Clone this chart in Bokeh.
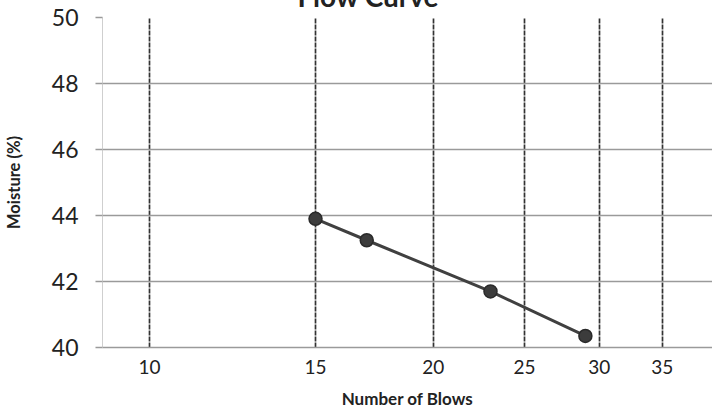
from bokeh.plotting import figure
from bokeh.models import Range1d, FixedTicker, Title, CustomJSTickFormatter
from bokeh.embed import file_html
from bokeh.resources import INLINE

blows = [15, 17, 23, 29]
moisture = [43.9, 43.25, 41.7, 40.35]
x_ticks = [10, 15, 20, 25, 30, 35]
y_ticks = [40, 42, 44, 46, 48, 50]
title_text = "Flow Curve"
x_title = "Number of Blows"
y_title = "Moisture (%)"

FONT = "Lato"
TOP = 50  # top border; the figure is shifted up so the title is mostly off the page

p = figure(
    x_axis_type="log",
    frame_width=610, frame_height=330,
    min_border_left=102, min_border_right=0, min_border_top=TOP, min_border_bottom=61,
    x_range=Range1d(8.915, 39.56), y_range=Range1d(40, 50),
    output_backend="svg", toolbar_location=None,
    background_fill_color="white", border_fill_color="white",
)
p.outline_line_color = None
p.styles = {"margin-top": f"-{TOP - 17}px"}

t = Title(text=title_text, align="left", offset=195, standoff=10,
          text_font=FONT, text_font_style="bold", text_font_size="28px", text_color="#222222")
p.add_layout(t, "above")

# grids
p.xgrid.ticker = FixedTicker(ticks=x_ticks)
p.xgrid.grid_line_color = "#333333"
p.xgrid.grid_line_width = 1.7
p.xgrid.grid_line_dash = "5 1"
p.ygrid.ticker = FixedTicker(ticks=y_ticks)
p.ygrid.grid_line_color = "#9a9a9a"
p.ygrid.grid_line_width = 1.3

# x axis
xa = p.xaxis[0]
xa.ticker = FixedTicker(ticks=x_ticks, minor_ticks=[])
xa.formatter = CustomJSTickFormatter(code="return tick.toFixed(0);")
xa.axis_line_color = "#9a9a9a"
xa.axis_line_width = 1.3
xa.major_tick_line_color = None
xa.minor_tick_line_color = None
xa.major_label_text_font = FONT
xa.major_label_text_font_size = "19px"
xa.major_label_text_color = "#222222"
xa.major_label_standoff = 6
xa.axis_label = x_title
xa.axis_label_text_font = FONT
xa.axis_label_text_font_style = "bold"
xa.axis_label_text_font_size = "17px"
xa.axis_label_text_color = "#222222"
xa.axis_label_standoff = 11

# y axis
ya = p.yaxis[0]
ya.ticker = FixedTicker(ticks=y_ticks, minor_ticks=[])
ya.axis_line_color = "#cfcfcf"
ya.axis_line_width = 1
ya.major_tick_line_color = "#9a9a9a"
ya.major_tick_line_width = 1.3
ya.major_tick_out = 7
ya.major_tick_in = 0
ya.minor_tick_line_color = None
ya.major_label_text_font = FONT
ya.major_label_text_font_size = "23px"
ya.major_label_text_color = "#222222"
ya.major_label_standoff = 17
ya.axis_label = y_title
ya.axis_label_text_font = FONT
ya.axis_label_text_font_style = "bold"
ya.axis_label_text_font_size = "16.5px"
ya.axis_label_text_color = "#222222"
ya.axis_label_standoff = 25

p.line(blows, moisture, line_color="#404040", line_width=3)
p.scatter(blows, moisture, size=13, fill_color="#3c3c3c", line_color="#2a2a2a", line_width=1.5)

open("out.html", "w").write(file_html(p, INLINE))
